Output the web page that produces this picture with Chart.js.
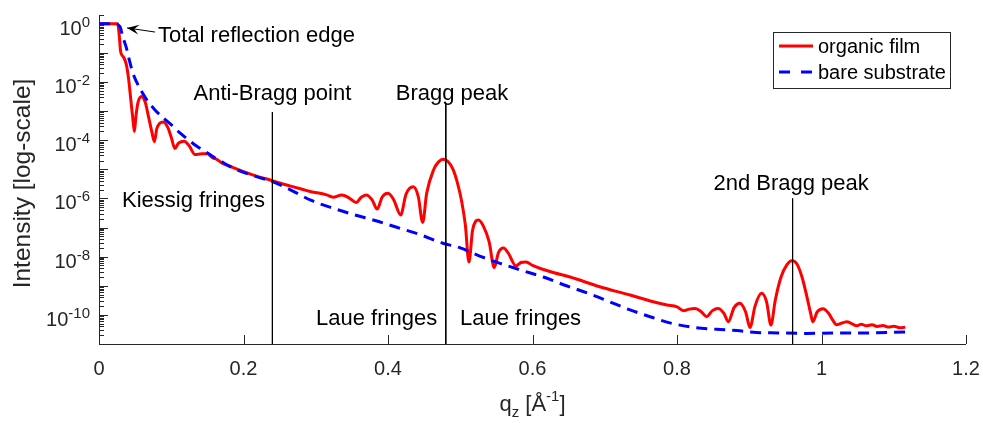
<!DOCTYPE html>
<html>
<head>
<meta charset="utf-8">
<script src="https://cdn.jsdelivr.net/npm/chart.js@4"></script>
<style>
  html, body { margin: 0; padding: 0; background: #fff; }
  #chart { display: block; }
</style>
</head>
<body>
<canvas id="chart" width="983" height="423"></canvas>
<script>
// organic film reflectivity (q_z in 1/Angstrom, intensity)
const qFilm = [0.000, 0.010, 0.020, 0.026, 0.028, 0.030, 0.034, 0.038, 0.041, 0.044, 0.047, 0.049,
  0.051, 0.054, 0.059, 0.064, 0.068, 0.073, 0.0766, 0.080, 0.084, 0.089, 0.095, 0.100, 0.105,
  0.110, 0.118, 0.125, 0.133, 0.142, 0.150, 0.157, 0.163, 0.170, 0.185, 0.200, 0.220, 0.237,
  0.250, 0.264, 0.280, 0.297, 0.306, 0.315, 0.324, 0.336, 0.346, 0.356, 0.363, 0.370, 0.378,
  0.385, 0.392, 0.400, 0.408, 0.4175, 0.425, 0.435, 0.442, 0.448, 0.4535, 0.463, 0.470, 0.4765,
  0.483, 0.490, 0.496, 0.502, 0.507, 0.512, 0.517, 0.521, 0.525, 0.532, 0.540, 0.547, 0.553,
  0.560, 0.567, 0.577, 0.584, 0.591, 0.600, 0.610, 0.630, 0.652, 0.693, 0.735, 0.763, 0.786,
  0.800, 0.809, 0.817, 0.825, 0.834, 0.841, 0.849, 0.857, 0.865, 0.871, 0.879, 0.887, 0.895,
  0.901, 0.908, 0.917, 0.924, 0.930, 0.936, 0.944, 0.952, 0.959, 0.966, 0.973, 0.980, 0.985,
  0.988, 0.994, 1.002, 1.010, 1.016, 1.021, 1.035, 1.049, 1.055, 1.062, 1.070, 1.077, 1.085,
  1.093, 1.100, 1.108, 1.116];
const iFilm = [1, 1, 1, 1, 4.0e-1, 1.1e-1, 7.1e-2, 3.8e-2, 1.26e-2, 2.5e-3, 5.0e-4, 2.0e-4,
  6.3e-4, 2.0e-3, 3.2e-3, 2.0e-3, 7.4e-4, 2.0e-4, 8.9e-5, 2.5e-4, 3.8e-4, 4.2e-4, 2.8e-4, 1.26e-4, 5.2e-5,
  7.9e-5, 9.3e-5, 6.3e-5, 3.2e-5, 3.4e-5, 3.4e-5, 2.5e-5, 2.2e-5, 1.66e-5, 1.17e-5, 8.3e-6, 5.6e-6, 4.3e-6,
  3.4e-6, 2.7e-6, 2.1e-6, 1.62e-6, 1.5e-6, 1.32e-6, 1.1e-6, 1.32e-6, 1.05e-6, 7.2e-7, 1.1e-6, 1.32e-6, 8.9e-7,
  4.3e-7, 1.12e-6, 1.5e-6, 8.9e-7, 2.7e-7, 1.4e-6, 2.5e-6, 1.12e-6, 1.5e-7, 1.5e-6, 9.5e-6, 1.8e-5, 2.2e-5,
  1.86e-5, 1.0e-5, 3.5e-6, 7.9e-7, 1.26e-7, 6.6e-9, 7.9e-8, 1.6e-7, 1.8e-7, 1.12e-7, 3.2e-8, 4.2e-9, 1.4e-8,
  2.0e-8, 1.26e-8, 4.8e-9, 6.3e-9, 6.6e-9, 5.0e-9, 4.0e-9, 2.8e-9, 2.0e-9, 9.3e-10, 4.8e-10, 3.0e-10, 2.2e-10,
  1.9e-10, 1.38e-10, 1.58e-10, 1.66e-10, 1.26e-10, 8.7e-11, 1.4e-10, 1.66e-10, 1.12e-10, 5.8e-11, 1.78e-10, 2.5e-10, 1.26e-10,
  3.7e-11, 2.0e-10, 5.5e-10, 2.8e-10, 4.5e-11, 3.2e-10, 2.0e-9, 5.2e-9, 7.2e-9, 5.6e-9, 2.0e-9, 4.0e-10, 1.12e-10,
  5.8e-11, 1.26e-10, 1.62e-10, 1.12e-10, 6.3e-11, 4.6e-11, 5.8e-11, 4.2e-11, 4.8e-11, 4.2e-11, 4.6e-11, 4.0e-11, 4.3e-11,
  3.8e-11, 4.1e-11, 3.6e-11, 3.8e-11];

// bare substrate reflectivity
const qSub = [0.000, 0.020, 0.029, 0.033, 0.038, 0.042, 0.047, 0.052, 0.059, 0.068, 0.0775, 0.089,
  0.1006, 0.112, 0.124, 0.135, 0.147, 0.158, 0.170, 0.185, 0.200, 0.220, 0.240, 0.263, 0.294,
  0.323, 0.352, 0.382, 0.412, 0.442, 0.476, 0.500, 0.527, 0.555, 0.583, 0.615, 0.647, 0.680,
  0.707, 0.735, 0.765, 0.793, 0.823, 0.855, 0.883, 0.910, 0.940, 0.980, 1.020, 1.060, 1.116];
const iSub = [1, 1, 0.79, 0.35, 0.145, 5.6e-2, 2.0e-2, 1.0e-2, 4.7e-3, 2.1e-3, 1.1e-3, 5.8e-4,
  3.3e-4, 1.78e-4, 1.02e-4, 6.3e-5, 4.1e-5, 2.7e-5, 1.8e-5, 1.12e-5, 7.9e-6, 5.4e-6, 3.8e-6, 2.1e-6, 8.5e-7,
  4.7e-7, 2.8e-7, 1.74e-7, 1.02e-7, 6.0e-8, 2.9e-8, 2.0e-8, 1.05e-8, 5.9e-9, 3.5e-9, 2.0e-9, 1.0e-9, 5.2e-10,
  2.8e-10, 1.48e-10, 8.3e-11, 5.1e-11, 3.7e-11, 3.2e-11, 2.9e-11, 2.5e-11, 2.4e-11, 2.3e-11, 2.4e-11, 2.4e-11, 2.6e-11];

// marker lines: q position and top of the line
const markerQ = [0.24, 0.48, 0.96];
const markerTop = [9.3e-4, 1.9e-3, 1.0e-6];

const xTicks = [0, 0.2, 0.4, 0.6, 0.8, 1, 1.2];
const yTickExp = [0, -2, -4, -6, -8, -10];

const FONT = '"Liberation Sans", Arial, Helvetica, sans-serif';
const AXIS = '#262626';

// text notes placed in data coordinates
const notes = [
  { text: 'Total reflection edge', q: 0.0817, y: 0.242, align: 'left' },
  { text: 'Anti-Bragg point', q: 0.24, y: 2.4e-3, align: 'center' },
  { text: 'Bragg peak', q: 0.4886, y: 2.4e-3, align: 'center' },
  { text: '2nd Bragg peak', q: 0.958, y: 1.95e-6, align: 'center' },
  { text: 'Kiessig fringes', q: 0.0318, y: 5.1e-7, align: 'left' },
  { text: 'Laue fringes', q: 0.468, y: 4.5e-11, align: 'right' },
  { text: 'Laue fringes', q: 0.4997, y: 4.5e-11, align: 'left' }
];

function pts(xs, ys) {
  return xs.map((x, i) => ({ x: x, y: ys[i] }));
}

const markerSets = markerQ.map((q, i) => ({
  data: [{ x: q, y: markerTop[i] }, { x: q, y: 1e-11 }],
  borderColor: '#000',
  borderWidth: 1,
  pointRadius: 0,
  order: 0
}));

const axesPlugin = {
  id: 'matlabAxes',
  beforeDatasetsDraw(chart) {
    const { ctx, chartArea: a, scales: { x, y } } = chart;
    ctx.save();
    ctx.strokeStyle = AXIS;
    ctx.lineWidth = 1;
    ctx.beginPath();
    ctx.moveTo(a.left + 0.5, a.top);
    ctx.lineTo(a.left + 0.5, a.bottom + 0.5);
    ctx.lineTo(a.right, a.bottom + 0.5);
    // x ticks (inward)
    xTicks.forEach(v => {
      const px = Math.round(x.getPixelForValue(v)) + 0.5;
      ctx.moveTo(px, a.bottom);
      ctx.lineTo(px, a.bottom - 9);
    });
    // y ticks, major and minor
    for (let e = -11; e <= 0; e++) {
      for (let m = 1; m <= 9; m++) {
        const v = m * Math.pow(10, e);
        if (v > 2) continue;
        const py = Math.round(y.getPixelForValue(v)) + 0.5;
        if (py < a.top) continue;
        ctx.moveTo(a.left, py);
        ctx.lineTo(a.left + (m === 1 ? 9 : 5), py);
      }
    }
    ctx.stroke();

    // tick labels
    ctx.fillStyle = AXIS;
    ctx.font = '20px ' + FONT;
    ctx.textAlign = 'center';
    ctx.textBaseline = 'alphabetic';
    xTicks.forEach(v => {
      ctx.fillText(String(v), x.getPixelForValue(v), a.bottom + 31);
    });
    ctx.textAlign = 'left';
    yTickExp.forEach(e => {
      const py = y.getPixelForValue(Math.pow(10, e));
      ctx.font = '15px ' + FONT;
      const sup = String(e);
      const ws = ctx.measureText(sup).width;
      ctx.font = '20px ' + FONT;
      const wb = ctx.measureText('10').width;
      const right = a.left - 9;
      ctx.fillText('10', right - ws - wb, py + 11);
      ctx.font = '15px ' + FONT;
      ctx.fillText(sup, right - ws, py + 3);
    });

    // axis titles
    ctx.font = '24.5px ' + FONT;
    ctx.save();
    ctx.translate(23, (a.top + a.bottom) / 2 + 4);
    ctx.rotate(-Math.PI / 2);
    ctx.textAlign = 'center';
    ctx.textBaseline = 'middle';
    ctx.fillText('Intensity [log-scale]', 0, 0);
    ctx.restore();

    const big = '22px ' + FONT, small = '15px ' + FONT;
    const parts = [['q', big, 0], ['z', small, 6], [' [Å', big, 0], ['-1', small, -10], [']', big, 0]];
    let total = 0;
    parts.forEach(p => { ctx.font = p[1]; total += ctx.measureText(p[0]).width; });
    let cx = (a.left + a.right) / 2 - total / 2;
    const base = a.bottom + 67;
    ctx.textAlign = 'left';
    parts.forEach(p => {
      ctx.font = p[1];
      ctx.fillText(p[0], cx, base + p[2]);
      cx += ctx.measureText(p[0]).width;
    });
    ctx.restore();
  },
  afterDraw(chart) {
    const { ctx, scales: { x, y } } = chart;
    ctx.save();
    ctx.fillStyle = '#000';
    ctx.font = '22px ' + FONT;
    ctx.textBaseline = 'alphabetic';
    notes.forEach(n => {
      ctx.textAlign = n.align;
      ctx.fillText(n.text, x.getPixelForValue(n.q), y.getPixelForValue(n.y));
    });

    // arrow to the total reflection edge
    const tx = x.getPixelForValue(0.0388), ty = y.getPixelForValue(0.72);
    const sx = x.getPixelForValue(0.0775), sy = y.getPixelForValue(0.52);
    const ang = Math.atan2(ty - sy, tx - sx);
    ctx.strokeStyle = '#000';
    ctx.lineWidth = 1;
    ctx.beginPath();
    ctx.moveTo(sx, sy);
    ctx.lineTo(tx, ty);
    ctx.stroke();
    const L = 12, W = 5;
    const bx = tx - L * Math.cos(ang), by = ty - L * Math.sin(ang);
    const nx = tx - 0.6 * L * Math.cos(ang), ny = ty - 0.6 * L * Math.sin(ang);
    ctx.beginPath();
    ctx.moveTo(tx, ty);
    ctx.lineTo(bx - W * Math.sin(ang), by + W * Math.cos(ang));
    ctx.lineTo(nx, ny);
    ctx.lineTo(bx + W * Math.sin(ang), by - W * Math.cos(ang));
    ctx.closePath();
    ctx.fill();

    // legend box
    const lx = 773, ly = 32, lw = 177, lh = 56;
    ctx.fillStyle = '#fff';
    ctx.fillRect(lx, ly, lw, lh);
    ctx.strokeStyle = AXIS;
    ctx.strokeRect(lx + 0.5, ly + 0.5, lw, lh);
    ctx.lineWidth = 3;
    ctx.strokeStyle = '#ff0000';
    ctx.beginPath();
    ctx.moveTo(lx + 6, ly + 14);
    ctx.lineTo(lx + 40, ly + 14);
    ctx.stroke();
    ctx.strokeStyle = '#0000ff';
    ctx.setLineDash([11, 11]);
    ctx.beginPath();
    ctx.moveTo(lx + 6, ly + 40);
    ctx.lineTo(lx + 40, ly + 40);
    ctx.stroke();
    ctx.setLineDash([]);
    ctx.fillStyle = '#000';
    ctx.font = '20px ' + FONT;
    ctx.textAlign = 'left';
    ctx.textBaseline = 'middle';
    ctx.fillText('organic film', lx + 45, ly + 15);
    ctx.fillText('bare substrate', lx + 45, ly + 41);
    ctx.restore();
  }
};

const chart = new Chart(document.getElementById('chart').getContext('2d'), {
  type: 'line',
  data: {
    datasets: markerSets.concat([
      {
        label: 'bare substrate',
        data: pts(qSub, iSub),
        borderColor: '#0000ff',
        borderWidth: 3,
        borderDash: [11, 7],
        pointRadius: 0,
        cubicInterpolationMode: 'monotone',
        order: 1
      },
      {
        label: 'organic film',
        data: pts(qFilm, iFilm),
        borderColor: '#ff0000',
        borderWidth: 3,
        pointRadius: 0,
        cubicInterpolationMode: 'monotone',
        order: 2
      }
    ])
  },
  options: {
    responsive: false,
    animation: false,
    parsing: true,
    layout: { padding: { left: 99, right: 17, top: 15, bottom: 79 } },
    plugins: {
      legend: { display: false },
      tooltip: { enabled: false }
    },
    scales: {
      x: { type: 'linear', min: 0, max: 1.2, display: false },
      y: { type: 'logarithmic', min: 1e-11, max: 2, display: false }
    }
  },
  plugins: [axesPlugin]
});
</script>
</body>
</html>
